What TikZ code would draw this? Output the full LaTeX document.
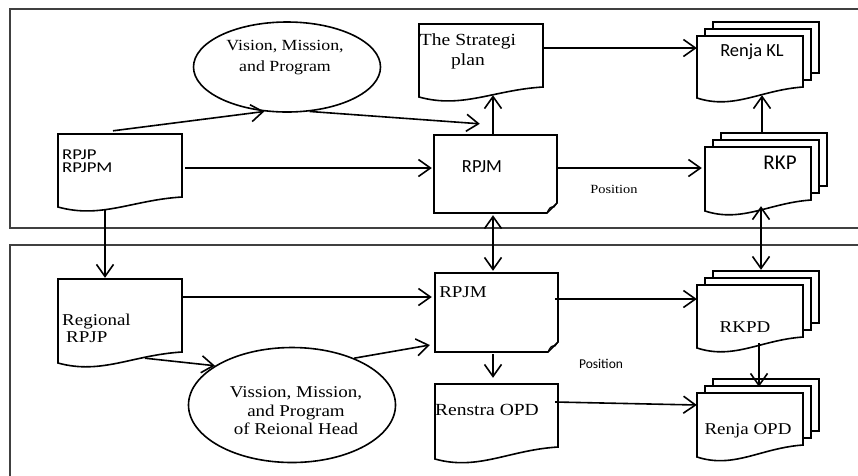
\documentclass[tikz,border=0pt]{standalone}
\usepackage{fontspec}
\setmainfont{Liberation Serif}[FakeStretch=1.15]
\newfontfamily\sansf{Carlito}
\newfontfamily\sanswide{Carlito}[FakeStretch=1.25]
\usetikzlibrary{arrows.meta,shapes.geometric,calc,fit}

\tikzset{
  shp/.style={line width=1.6pt, draw=black, fill=white},
  frm/.style={line width=1.8pt, draw=black!75},
  anch/.style={inner sep=0pt, draw=none},
  ell/.style={ellipse, draw, line width=1.6pt, inner sep=0pt},
  barb/.tip={Straight Barb[length=12pt,width=17pt,line width=1.6pt]},
  arr/.style={line width=1.6pt, -barb},
  darr/.style={line width=1.6pt, barb-barb},
  serif/.style={font=\fontsize{16.5}{18.5}\selectfont, text=black, align=center, inner sep=0pt},
  sans/.style={font=\sansf\fontsize{18.5}{20}\selectfont, text=black, align=center, inner sep=0pt},
}

% document shape: x1 y1 x2 yR yL
\newcommand\docpath[5]{%
  \draw[shp] (#1,#2) -- (#3,#2) -- (#3,#4)
    .. controls ({#3-0.4*(#3-#1)},{#4+3}) and ({#1+0.35*(#3-#1)},{#5+12}) .. (#1,#5) -- cycle;}
% multi document: x1 y1 x2 yR yL
\newcommand\mdocpath[5]{%
  \draw[shp] (#1+16,#2-14) rectangle (#3+16,#4-14);
  \draw[shp] (#1+8,#2-7) rectangle (#3+8,#4-7);
  \docpath{#1}{#2}{#3}{#4}{#5}}
% folded corner page: x1 y1 x2 y2
\newcommand\foldpath[4]{%
  \draw[shp] (#1,#2) -- (#3,#2) -- (#3,#4-10) -- (#3-10,#4) -- (#1,#4) -- cycle;
  \draw[line width=1.1pt] (#3-10,#4) .. controls (#3-8,#4-5) and (#3-6,#4-7) .. (#3-3,#4-6) -- (#3,#4-10);}

\begin{document}
\begin{tikzpicture}[x=1pt,y=-1pt]
\useasboundingbox (0,0) rectangle (858,475);

% panels
\draw[frm] (880,9) -- (10,9) -- (10,228) -- (880,228);
\draw[frm] (880,245) -- (10,245) -- (10,500);

% ---- top panel shapes
\docpath{58}{134}{182}{197}{207}
\node[anch, fit={(58,134) (182,207)}] (rpjp) {};
\node[ell, minimum width=187pt, minimum height=90pt] (vm) at (287,67) {};
\docpath{419}{24}{543}{87}{97}
\node[anch, fit={(419,24) (543,97)}] (strat) {};
\foldpath{434}{135}{557}{213}
\node[anch, fit={(434,135) (557,213)}] (rpjm) {};
\mdocpath{697}{36}{803}{87}{98}
\node[anch, fit={(697,36) (803,98)}] (renjakl) {};
\mdocpath{705}{147}{811}{200}{211}
\node[anch, fit={(705,147) (811,211)}] (rkp) {};

% ---- bottom panel shapes
\docpath{58}{279}{182}{352}{363}
\node[anch, fit={(58,279) (182,363)}] (rrpjp) {};
\node[ell, minimum width=207pt, minimum height=115pt] (vm2) at (292,405) {};
\foldpath{435}{273}{558}{352}
\node[anch, fit={(435,273) (558,352)}] (rpjm2) {};
\docpath{435}{384}{558}{447}{459}
\node[anch, fit={(435,384) (558,459)}] (renstra) {};
\mdocpath{697}{285}{803}{337}{348}
\node[anch, fit={(697,285) (803,348)}] (rkpd) {};
\mdocpath{697}{393}{803}{445}{457}
\node[anch, fit={(697,393) (803,457)}] (renjaopd) {};

% ---- connectors top
\draw[arr] ($(rpjp.north)+(-7,-3)$) -- (vm.243);
\draw[arr] (vm.297) -- ($(rpjm.north west)+(46,-11)$);
\draw[arr] ($(rpjp.east)+(3,-2.5)$) -- ($(rpjm.west)+(-2,-6)$);
\draw[arr] ($(rpjm.north)+(-2.5,0)$) -- ($(strat.south)+(12,-2)$);
\draw[arr] ($(strat.east)+(0,-12.5)$) -- ($(renjakl.west)+(0,-19)$);
\draw[arr] ($(rkp.north)+(4,-13)$) -- ($(renjakl.south)+(12,-3)$);
\draw[arr] ($(rpjm.east)+(0,-6)$) -- ($(rkp.west)+(-3,-11)$);
% between panels
\draw[darr] ($(rpjm.south)+(-2.5,2)$) -- ($(rpjm2.north)+(-3.5,-2)$);
\draw[darr] ($(rkp.south)+(3,-5)$) -- ($(rkpd.north)+(11,-15)$);
\draw[arr] ($(rpjp.south)+(-15,3)$) -- ($(rrpjp.north)+(-15,-1)$);
% bottom
\draw[arr] ($(rrpjp.east)+(1,-24)$) -- ($(rpjm2.west)+(-3,-15.5)$);
\draw[arr] ($(rrpjp.south)+(25,-5)$) -- (vm2.153);
\draw[arr] (vm2.37) -- ($(rpjm2.west)+(-5,32.5)$);
\draw[arr] ($(rpjm2.south)+(-3.5,2)$) -- ($(renstra.north)+(-3.5,-6)$);
\draw[arr] ($(rpjm2.east)+(-3,-13.5)$) -- ($(rkpd.west)+(0,-17.5)$);
\draw[arr] ($(renstra.east)+(-3,-19.5)$) -- ($(renjaopd.west)+(0,-20)$);
\draw[arr] ($(rkpd.south)+(9,-5)$) -- ($(renjaopd.north)+(9,-6)$);

% ---- texts
\node[sans, font=\sanswide\fontsize{15}{13.5}\selectfont, align=left, anchor=west] (t-rpjp) at (62,161) {RPJP\\RPJPM};
\node[serif, font=\fontsize{15.5}{21}\selectfont] (t-vm) at (285,58) {Vision, Mission,\\and Program};
\node[serif, font=\fontsize{17}{20}\selectfont] (t-strat) at (468,51) {The Strategi\\plan};
\node[sans] (t-rpjm) at (482,167) {RPJM};
\node[serif, font=\fontsize{12.5}{14}\selectfont] (t-pos1) at (614,189) {Position};
\node[sans] (t-renjakl) at (752,52) {Renja KL};
\node[sans, font=\sansf\fontsize{21}{22}\selectfont] (t-rkp) at (780,163) {RKP};

\node[serif, font=\fontsize{16.5}{17}\selectfont, align=left, anchor=west] (t-rrpjp) at (62,328) {Regional\\\hspace*{4pt}RPJP};
\node[serif] (t-vm2) at (296,411) {Vission, Mission,\\and Program\\of Reional Head};
\node[serif] (t-rpjm2) at (463,292) {RPJM};
\node[serif, font=\fontsize{17}{18}\selectfont] (t-renstra) at (487,410) {Renstra OPD};
\node[sans, font=\sansf\fontsize{13.5}{14}\selectfont] (t-pos2) at (601,364) {Position};
\node[serif] (t-rkpd) at (745,327) {RKPD};
\node[serif] (t-renjaopd) at (748,431) {Renja OPD};
\end{tikzpicture}
\end{document}
